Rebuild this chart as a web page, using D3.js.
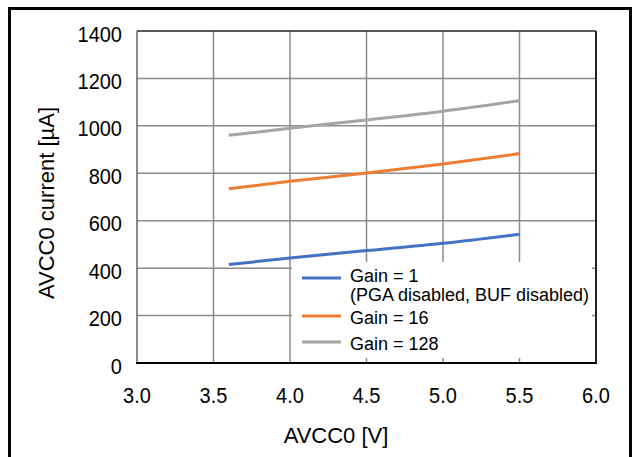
<!DOCTYPE html>
<html>
<head>
<meta charset="utf-8">
<script src="https://cdn.jsdelivr.net/npm/d3@7"></script>
<style>
  body { margin: 0; background: #fff; }
  text { font-family: "Liberation Sans", Arial, sans-serif; fill: #000; }
</style>
</head>
<body>
<div id="chart"></div>
<script>
var width = 633;
var height = 457;

// data
var voltages = [3.6, 4.0, 4.5, 5.0, 5.5];
var gain1 = [415, 443, 474, 505, 543];
var gain16 = [735, 766, 801, 839, 883];
var gain128 = [960, 990, 1025, 1062, 1106];

var xTicks = [3.0, 3.5, 4.0, 4.5, 5.0, 5.5, 6.0];
var yTicks = [0, 200, 400, 600, 800, 1000, 1200, 1400];

var seriesNames = ["Gain = 1", "Gain = 16", "Gain = 128"];
var seriesColors = ["#4472C4", "#ED7D31", "#A5A5A5"];
var seriesValues = [gain1, gain16, gain128];

var x = d3.scaleLinear().domain([3, 6]).range([137, 596]);
var y = d3.scaleLinear().domain([0, 1400]).range([363, 31]);

var svg = d3.select("#chart")
    .append("svg")
    .attr("width", width)
    .attr("height", height);

// outer frame
svg.append("rect")
    .attr("x", 9.5).attr("y", 8.5)
    .attr("width", 621).attr("height", 470)
    .attr("fill", "none")
    .attr("stroke", "#000")
    .attr("stroke-width", 3);

// grid
svg.selectAll(".gx")
    .data(xTicks.slice(1, -1))
    .enter().append("line")
    .attr("x1", function (d) { return x(d); })
    .attr("x2", function (d) { return x(d); })
    .attr("y1", y(1400)).attr("y2", y(0))
    .attr("stroke", "#8c8c8c").attr("stroke-width", 1.5);

svg.selectAll(".gy")
    .data(yTicks.slice(1, -1))
    .enter().append("line")
    .attr("x1", x(3)).attr("x2", x(6))
    .attr("y1", function (d) { return y(d); })
    .attr("y2", function (d) { return y(d); })
    .attr("stroke", "#8c8c8c").attr("stroke-width", 1.5);

// plot borders
svg.append("line").attr("x1", x(3)).attr("x2", x(6)).attr("y1", y(1400)).attr("y2", y(1400))
    .attr("stroke", "#222").attr("stroke-width", 1.5);
svg.append("line").attr("x1", x(3)).attr("x2", x(3)).attr("y1", y(1400)).attr("y2", y(0))
    .attr("stroke", "#666").attr("stroke-width", 1.5);
svg.append("line").attr("x1", x(6)).attr("x2", x(6)).attr("y1", y(1400)).attr("y2", y(0))
    .attr("stroke", "#222").attr("stroke-width", 2);
svg.append("line").attr("x1", x(3) - 1).attr("x2", x(6) + 1).attr("y1", y(0)).attr("y2", y(0))
    .attr("stroke", "#000").attr("stroke-width", 2);

// series
var line = d3.line()
    .x(function (d, i) { return x(voltages[i]); })
    .y(function (d) { return y(d); })
    .curve(d3.curveMonotoneX);

svg.selectAll(".series")
    .data(seriesValues)
    .enter().append("path")
    .attr("d", line)
    .attr("fill", "none")
    .attr("stroke", function (d, i) { return seriesColors[i]; })
    .attr("stroke-width", 3);

// tick labels
svg.selectAll(".ylab")
    .data(yTicks)
    .enter().append("text")
    .attr("transform", function (d) { return "translate(122," + (y(d) + 10.5) + ") scale(1,1.1)"; })
    .attr("text-anchor", "end")
    .attr("font-size", 20)
    .text(function (d) { return d; });

svg.selectAll(".xlab")
    .data(xTicks)
    .enter().append("text")
    .attr("transform", function (d) { return "translate(" + x(d) + ",403) scale(1,1.1)"; })
    .attr("text-anchor", "middle")
    .attr("font-size", 20)
    .text(function (d) { return d.toFixed(1); });

// axis titles
svg.append("text")
    .attr("x", 336).attr("y", 443)
    .attr("text-anchor", "middle")
    .attr("font-size", 22)
    .text("AVCC0 [V]");

svg.append("text")
    .attr("transform", "translate(53.5,203) rotate(-90)")
    .attr("text-anchor", "middle")
    .attr("font-size", 22)
    .text("AVCC0 current [\u00b5A]");

// legend
var legend = svg.append("g");
legend.append("rect")
    .attr("x", 292).attr("y", 262)
    .attr("width", 300).attr("height", 96)
    .attr("fill", "#fff");

var legendLineY = [278, 316, 342];
var legendTextY = [282, 324, 350];

legend.selectAll(".ll")
    .data(seriesNames)
    .enter().append("line")
    .attr("x1", 302).attr("x2", 341)
    .attr("y1", function (d, i) { return legendLineY[i]; })
    .attr("y2", function (d, i) { return legendLineY[i]; })
    .attr("stroke", function (d, i) { return seriesColors[i]; })
    .attr("stroke-width", 3);

legend.selectAll(".lt")
    .data(seriesNames)
    .enter().append("text")
    .attr("x", 350)
    .attr("y", function (d, i) { return legendTextY[i]; })
    .attr("font-size", 18)
    .text(function (d) { return d; });

legend.append("text")
    .attr("x", 350).attr("y", 301)
    .attr("font-size", 18)
    .text("(PGA disabled, BUF disabled)");
</script>
</body>
</html>
